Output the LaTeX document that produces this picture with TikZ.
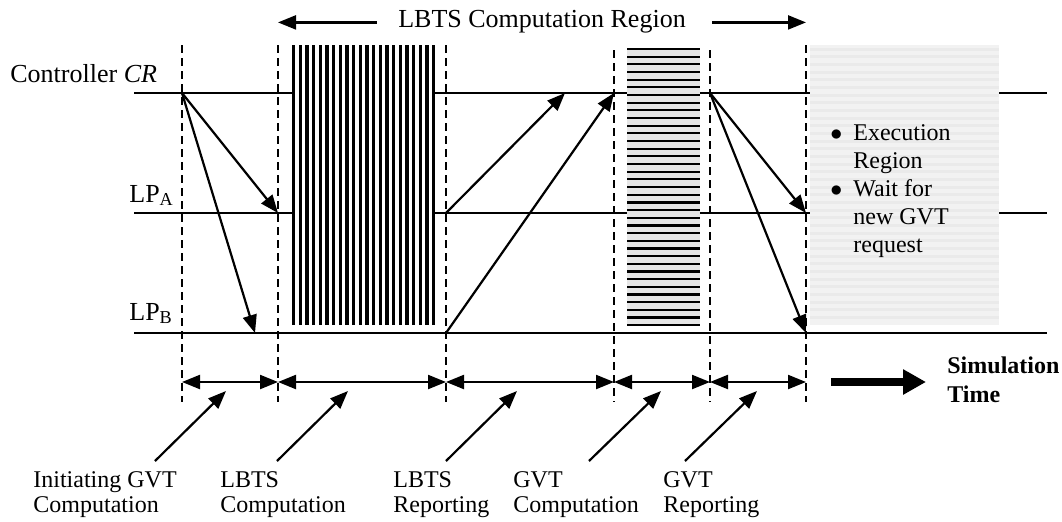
\documentclass[tikz,border=0pt]{standalone}
\usepackage{fontspec}
\setmainfont{Liberation Serif}
\usetikzlibrary{arrows.meta,positioning}

\newcommand{\gvtitem}[1]{\makebox[11.5pt][l]{$\bullet$}#1}
\newcommand{\gvtcont}[1]{\hspace*{11.5pt}#1}

\definecolor{hbarbg}{RGB}{230,230,230}
\definecolor{execbg}{RGB}{242,242,242}
\definecolor{execln}{RGB}{234,234,234}

\tikzset{
  timeline/.style={line width=1.4pt},
  phase/.style={line width=0.8pt, dash pattern=on 4pt off 2.5pt},
  msg/.style={line width=1.1pt, -{Triangle[length=9pt,width=7pt]}},
  span/.style={line width=1.1pt, {Triangle[length=9pt,width=7pt]}-{Triangle[length=9pt,width=7pt]}},
  lbl/.style={inner sep=0pt, align=left, font=\fontsize{12}{12.5}\selectfont},
  biglbl/.style={lbl, font=\fontsize{13}{14}\selectfont},
}

\begin{document}
\begin{tikzpicture}[x=0.5pt, y=-0.5pt]
  \useasboundingbox (0,0) rectangle (1062,521);
  % rows and phase boundaries
  \coordinate (cr) at (0,93);
  \coordinate (lpa) at (0,213);
  \coordinate (lpb) at (0,333);
  \coordinate (sp) at (0,382);
  \foreach \n/\x in {t0/182, t1/278, t2/446, t3/614, t4/710, t5/806}
    \coordinate (\n) at (\x,0);

  % timelines
  \foreach \y in {93, 213, 333}
    \draw[timeline] (134,\y) -- (1047,\y);

  % LBTS computation (vertical bars)
  \fill[white] (292,45) rectangle (435,325);
  \foreach \i in {0,...,21}
    \fill (292+\i*6.67,45) rectangle ++(3.3,280);
  % GVT computation (horizontal bars)
  \fill[hbarbg] (627,48) rectangle (700,326);
  \foreach \i in {0,...,36}
    \draw[line width=1.1pt] (627,49+\i*7.67) -- (700,49+\i*7.67);
  % execution region
  \fill[execbg] (810,45) rectangle (999,325);
  \foreach \i in {0,...,35}
    \draw[execln, line width=1.5pt] (810,49+\i*7.67) -- (999,49+\i*7.67);

  % phase boundaries
  \foreach \x/\top in {182/45, 278/45, 446/45, 614/50, 710/50, 806/45}
    \draw[phase] (\x,\top) -- (\x,402);

  % messages
  \coordinate (bhit) at (255,333);
  \coordinate (ahit) at (565,93);
  \draw[msg] (t0 |- cr) -- (t1 |- lpa);
  \draw[msg] (t0 |- cr) -- (bhit);
  \draw[msg] (t2 |- lpa) -- (ahit);
  \draw[msg] (t2 |- lpb) -- (t3 |- cr);
  \draw[msg] (t4 |- cr) -- (t5 |- lpa);
  \draw[msg] (t4 |- cr) -- (t5 |- lpb);

  % phase spans
  \foreach \a/\b in {t0/t1, t1/t2, t2/t3, t3/t4, t4/t5}
    \draw[span] (\a |- sp) -- (\b |- sp);

  % row labels
  \node[biglbl, anchor=base west] (ctrl) at (10,82) {Controller \textit{CR}};
  \node[biglbl, anchor=base west] (lpA) at (129,202) {LP\textsubscript{A}};
  \node[biglbl, anchor=base west] (lpB) at (129,320) {LP\textsubscript{B}};

  % region heading
  \node[biglbl, anchor=base] (region) at (542,27) {LBTS Computation Region};
  \draw[msg] ([xshift=-10.5pt]region.mid west) -- (t1 |- region.mid);
  \draw[msg] ([xshift=13pt]region.mid east) -- (t5 |- region.mid);

  % execution note (base = last line)
  \node[lbl, anchor=base west, font=\fontsize{12}{14}\selectfont] (note) at (830,252)
    {\gvtitem{Execution}\\\gvtcont{Region}\\\gvtitem{Wait for}\\\gvtcont{new GVT}\\\gvtcont{request}};

  % simulation time
  \coordinate (simtail) at (831,382);
  \coordinate (simtip) at (926,382);
  \draw[line width=3.8pt, -{Triangle[length=11.5pt,width=12pt]}] (simtail) -- (simtip);
  \node[lbl, anchor=base west, font=\bfseries\fontsize{12}{14.5}\selectfont] (simtime) at (947,402) {Simulation\\Time};

  % phase names
  \foreach \n/\lx/\px/\tx/\txt in {init/33/155/226/{Initiating GVT\\Computation},
      lbtsc/220/277/348/{LBTS\\Computation}, lbtsr/393/446/517/{LBTS\\Reporting},
      gvtc/513/589/661/{GVT\\Computation}, gvtr/663/685/757/{GVT\\Reporting}}
  {
    \node[lbl, anchor=base west] (\n) at (\lx,512) {\txt};
    \coordinate (\n-tail) at (\px,461);
    \coordinate (\n-tip) at (\tx,391);
    \draw[msg] (\n-tail) -- (\n-tip);
  }
\end{tikzpicture}
\end{document}
